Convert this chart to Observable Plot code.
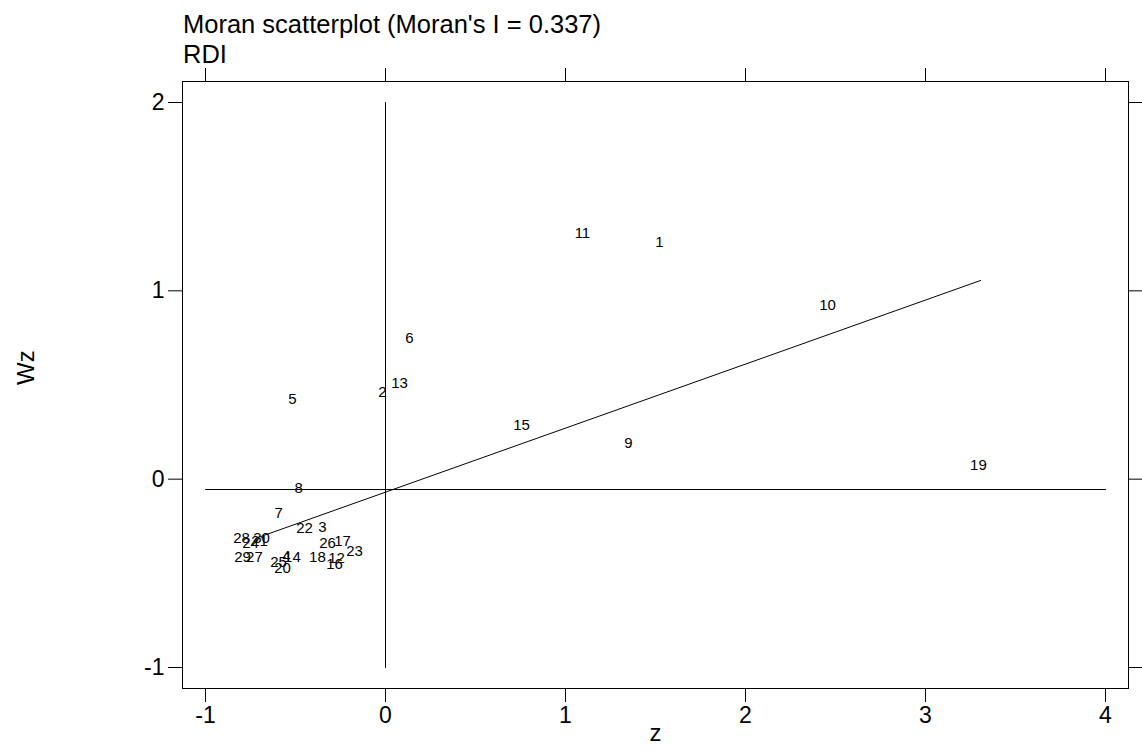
<!DOCTYPE html>
<html><head><meta charset="utf-8">
<script src="https://cdn.jsdelivr.net/npm/d3@7"></script>
<script src="https://cdn.jsdelivr.net/npm/@observablehq/plot@0.6"></script>
<style>
body{margin:0;background:#fff;font-family:"Liberation Sans",Arial,sans-serif;}
#title{height:66px;padding-left:183px;box-sizing:border-box;padding-top:9px;font-size:25.5px;line-height:30px;color:#000;overflow:visible;white-space:nowrap}
#chart svg{display:block}
</style></head><body>
<div id="title"><div>Moran scatterplot (Moran's I = 0.337)</div><div>RDI</div></div>
<div id="chart"></div>
<script>
// Region ids and their standardized values (z) and spatial lags (Wz)
const ids = ["1","2","3","4","5","6","7","8","9","10","11","12","13","14","15","16","17","18","19","20","21","22","23","24","25","26","27","28","29","30"];
const zValues = [1.522,-0.017,-0.350,-0.550,-0.517,0.133,-0.594,-0.483,1.350,2.456,1.094,-0.272,0.078,-0.517,0.756,-0.283,-0.239,-0.378,3.294,-0.572,-0.700,-0.450,-0.172,-0.750,-0.594,-0.322,-0.728,-0.800,-0.794,-0.689];
const wzValues = [1.256,0.460,-0.256,-0.410,0.423,0.747,-0.182,-0.049,0.190,0.922,1.305,-0.421,0.508,-0.416,0.285,-0.453,-0.331,-0.416,0.072,-0.474,-0.331,-0.262,-0.384,-0.341,-0.442,-0.341,-0.416,-0.315,-0.416,-0.315];
// Reference lines
const meanZ = 0;
const meanWz = -0.055;
const hLineZ = [-1, 4];
const vLineWz = [-1, 2];
// Fitted regression line end points (slope = Moran's I)
const fitZ = [-0.706, 3.306];
const fitWz = [-0.309, 1.055];
// Tick values
const xTicks = [-1, 0, 1, 2, 3, 4];
const yTicks = [-1, 0, 1, 2];

const points = ids.map((id, i) => ({id, z: zValues[i], wz: wzValues[i]}));
const hLine = hLineZ.map(z => ({z, wz: meanWz}));
const vLine = vLineWz.map(wz => ({z: meanZ, wz}));
const fitLine = fitZ.map((z, i) => ({z, wz: fitWz[i]}));
const fmt = d => String(d);

const chart = Plot.plot({
  width: 1142,
  height: 685,
  marginLeft: 182,
  marginRight: 14,
  marginTop: 15,
  marginBottom: 63,
  style: {fontFamily: "'Liberation Sans', Arial, sans-serif", fontSize: "23px", color: "#000", background: "#fff"},
  x: {domain: [-1.1278, 4.1278]},
  y: {domain: [-1.1115, 2.1115]},
  marks: [
    Plot.frame({stroke: "#000"}),
    Plot.axisX({anchor: "bottom", ticks: xTicks, tickSize: 14, tickPadding: 4, tickFormat: fmt, label: null, fontSize: 23}),
    Plot.axisX({anchor: "top", ticks: xTicks, tickSize: 14, tickFormat: () => "", label: null}),
    Plot.axisY({anchor: "left", ticks: yTicks, tickSize: 14, tickPadding: 4, tickFormat: fmt, label: null, fontSize: 23}),
    Plot.axisY({anchor: "right", ticks: yTicks, tickSize: 14, tickFormat: () => "", label: null}),
    Plot.line(hLine, {x: "z", y: "wz", stroke: "#000", strokeWidth: 1}),
    Plot.line(vLine, {x: "z", y: "wz", stroke: "#000", strokeWidth: 1}),
    Plot.line(fitLine, {x: "z", y: "wz", stroke: "#000", strokeWidth: 1}),
    Plot.text(points, {x: "z", y: "wz", text: "id", fontSize: 15, fill: "#000"}),
    Plot.text(["z"], {frameAnchor: "bottom", dy: 52, fontSize: 24, fill: "#000"}),
    Plot.text(["Wz"], {frameAnchor: "left", dx: -156, rotate: -90, fontSize: 24, fill: "#000"})
  ]
});
document.getElementById("chart").appendChild(chart);
</script>
</body></html>
